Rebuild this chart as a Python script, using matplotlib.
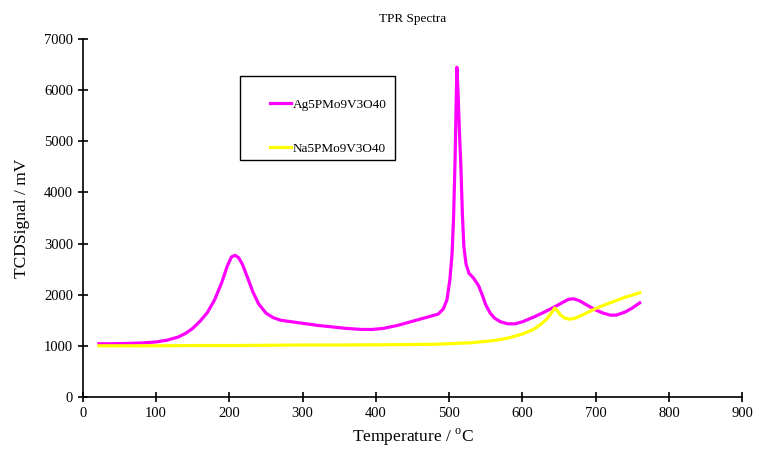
import matplotlib
matplotlib.use("Agg")
import matplotlib.pyplot as plt
from matplotlib.patches import Rectangle

plt.rcParams['font.family'] = ['Liberation Serif', 'DejaVu Serif']
plt.rcParams['mathtext.fontset'] = 'custom'
plt.rcParams['mathtext.rm'] = 'Liberation Serif'

# Ag5PMo9V3O40 (magenta)
ag_temp = [22, 40, 60, 80, 100, 115, 130, 140, 150, 160, 170, 180, 190, 197, 203,
           208, 213, 218, 225, 232, 240, 250, 260, 270, 285, 300, 320, 340, 360,
           380, 395, 410, 430, 450, 470, 485, 492, 497, 501, 504, 506, 508, 509.5,
           510.5, 512, 514, 516, 518, 520, 523, 527, 533, 540, 545, 550, 556, 562,
           570, 580, 590, 600, 615, 630, 645, 655, 663, 670, 678, 690, 700, 710,
           720, 728, 740, 750, 760]
ag_signal = [1040, 1040, 1045, 1055, 1075, 1110, 1170, 1240, 1340, 1480, 1650, 1900,
             2250, 2550, 2740, 2770, 2720, 2590, 2330, 2060, 1820, 1640, 1550, 1500,
             1470, 1440, 1400, 1370, 1340, 1320, 1320, 1340, 1400, 1480, 1560, 1620,
             1720, 1900, 2300, 2800, 3500, 4600, 5700, 6450, 6000, 5200, 4500, 3600,
             2950, 2600, 2420, 2330, 2180, 2000, 1800, 1640, 1540, 1470, 1430, 1430,
             1470, 1560, 1660, 1770, 1850, 1910, 1920, 1880, 1780, 1700, 1640, 1600,
             1600, 1660, 1740, 1840]

# Na5PMo9V3O40 (yellow)
na_temp = [22, 50, 100, 150, 200, 250, 300, 350, 400, 450, 480, 500, 530, 560, 580,
           600, 615, 625, 633, 640, 644, 648, 652, 658, 665, 672, 680, 690, 700,
           712, 725, 740, 752, 760]
na_signal = [1000, 1000, 1000, 1005, 1005, 1010, 1015, 1015, 1020, 1025, 1030, 1040,
             1060, 1100, 1150, 1230, 1320, 1420, 1520, 1650, 1740, 1680, 1600, 1540,
             1520, 1540, 1590, 1660, 1730, 1800, 1870, 1950, 2000, 2040]

fig = plt.figure(figsize=(7.59, 4.5), dpi=100)
ax = fig.add_axes([0.109, 0.118, 0.869, 0.795])

ax.plot(ag_temp, ag_signal, color='#FF00FF', lw=2.3, label='Ag5PMo9V3O40')
ax.plot(na_temp, na_signal, color='#FFFF00', lw=2.3, label='Na5PMo9V3O40')

ax.set_xlim(0, 900)
ax.set_ylim(0, 7000)
ax.set_xticks(range(0, 901, 100))
ax.set_yticks(range(0, 7001, 1000))
ax.spines['top'].set_visible(False)
ax.spines['right'].set_visible(False)
ax.tick_params(direction='inout', length=7, width=1.2, labelsize=10.5)
for s in ('left', 'bottom'):
    ax.spines[s].set_linewidth(1.2)

ax.set_title('TPR Spectra', fontsize=9.5, pad=12)
ax.set_xlabel(r'Temperature / $^{\rm o}$C', fontsize=12.5, labelpad=5)
ax.set_ylabel('TCDSignal / mV', fontsize=12.5, labelpad=10)

# legend frame drawn separately, entries placed inside it
ax.add_patch(Rectangle((0.238, 0.662), 0.235, 0.235, transform=ax.transAxes,
                       fill=False, edgecolor='black', lw=1.0, zorder=5))
leg = ax.legend(loc='upper left', bbox_to_anchor=(0.284, 0.834), fontsize=9.5,
                frameon=False, labelspacing=2.4, borderpad=0,
                handlelength=1.6, handletextpad=0.1, borderaxespad=0)

fig.savefig('out.png', dpi=100)
